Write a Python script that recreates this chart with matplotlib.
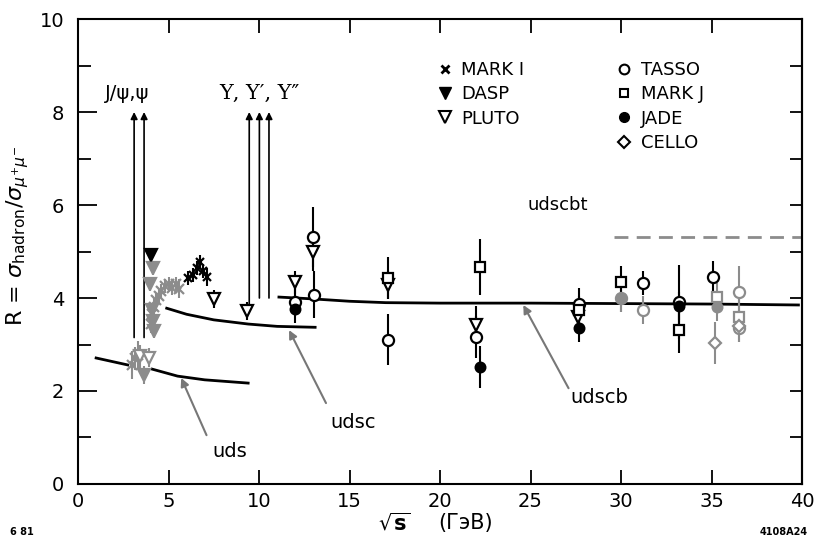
import matplotlib.pyplot as plt
from matplotlib.lines import Line2D

plt.rcParams['font.family'] = ['DejaVu Sans']
plt.rcParams['mathtext.fontset'] = 'dejavusans'

GREY = '#8c8c8c'

# quark-model expectation curves
uds_lo_x = [1.0, 2.75]
uds_lo_y = [2.71, 2.56]
uds_hi_x = [4.1, 5.5, 7.0, 9.4]
uds_hi_y = [2.47, 2.32, 2.24, 2.17]
udsc_x = [4.9, 6.0, 7.5, 9.4, 11.0, 13.1]
udsc_y = [3.78, 3.65, 3.53, 3.44, 3.39, 3.37]
udscb_x = [11.1, 13.0, 15.0, 17.0, 20.0, 25.0, 30.0, 35.0, 39.8]
udscb_y = [4.02, 3.98, 3.93, 3.90, 3.89, 3.89, 3.88, 3.87, 3.85]
udscbt_x = [29.6, 40.0]
udscbt_y = [5.31, 5.31]

# resonances
psi_x = [3.1, 3.65]
psi_bottom = [3.15, 3.15]
ups_x = [9.46, 10.02, 10.55]
ups_bottom = [3.8, 4.0, 4.0]

# MARK I
mark1_lo_x = [3.0, 3.15, 3.3, 4.05, 4.1, 4.2, 4.3, 4.45, 4.6, 4.8, 5.0, 5.2, 5.4, 5.6]
mark1_lo_y = [2.55, 2.7, 2.78, 3.45, 3.65, 3.8, 3.95, 4.05, 4.15, 4.25, 4.3, 4.22, 4.3, 4.2]
mark1_lo_e = [0.3, 0.25, 0.3, 0.2, 0.2, 0.2, 0.15, 0.15, 0.15, 0.15, 0.15, 0.15, 0.15, 0.2]
mark1_hi_x = [6.1, 6.35, 6.6, 6.75, 6.9, 7.1]
mark1_hi_y = [4.43, 4.5, 4.65, 4.78, 4.58, 4.45]
mark1_hi_e = [0.15, 0.15, 0.15, 0.15, 0.15, 0.2]

# DASP
dasp_b_x = [4.03]
dasp_b_y = [4.92]
dasp_b_e = [0.12]
dasp_g_x = [4.15, 4.0, 4.08, 4.15, 4.22, 3.65]
dasp_g_y = [4.65, 4.3, 3.75, 3.5, 3.3, 2.34]
dasp_g_e = [0.15, 0.15, 0.15, 0.15, 0.15, 0.2]

# PLUTO
pluto_b_x = [7.5, 9.35, 12.0, 13.0, 17.1, 22.0, 27.6]
pluto_b_y = [3.98, 3.72, 4.34, 4.99, 4.28, 3.42, 3.6]
pluto_b_e = [0.2, 0.2, 0.25, 0.4, 0.3, 0.4, 0.3]
pluto_g_x = [3.45, 3.9]
pluto_g_y = [2.75, 2.72]
pluto_g_e = [0.25, 0.2]

# TASSO
tasso_b_x = [12.0, 13.0, 13.05, 17.1, 22.0, 27.7, 31.2, 33.2, 35.1]
tasso_b_y = [3.92, 5.31, 4.07, 3.1, 3.17, 3.87, 4.32, 3.91, 4.45]
tasso_b_e = [0.3, 0.65, 0.5, 0.55, 0.45, 0.35, 0.25, 0.8, 0.35]
tasso_g_x = [30.0, 31.2, 36.5, 36.5]
tasso_g_y = [4.0, 3.75, 4.13, 3.35]
tasso_g_e = [0.3, 0.3, 0.55, 0.3]

# MARK J
markj_b_x = [17.1, 22.2, 27.7, 30.0, 33.2]
markj_b_y = [4.43, 4.67, 3.74, 4.34, 3.31]
markj_b_e = [0.45, 0.6, 0.3, 0.35, 0.5]
markj_g_x = [35.3, 36.5]
markj_g_y = [4.02, 3.6]
markj_g_e = [0.3, 0.4]

# JADE
jade_b_x = [12.0, 22.2, 27.7, 33.2]
jade_b_y = [3.77, 2.52, 3.36, 3.83]
jade_b_e = [0.3, 0.45, 0.3, 0.3]
jade_g_x = [30.0, 35.3]
jade_g_y = [4.0, 3.8]
jade_g_e = [0.3, 0.3]

# CELLO
cello_x = [35.2, 36.5]
cello_y = [3.03, 3.4]
cello_e = [0.45, 0.35]


def points(ax, x, y, err, marker, color, filled, ms):
    ax.errorbar(x, y, yerr=err, fmt=marker, color=color, ecolor=color,
                mfc=color if filled else 'white', mec=color, ms=ms, mew=1.6,
                elinewidth=1.5, capsize=0, zorder=4)


def main():
    fig = plt.figure(figsize=(8.16, 5.48), dpi=100)
    ax = fig.add_axes([0.0956, 0.1168, 0.8873, 0.8485])
    ax.set_xlim(0, 40)
    ax.set_ylim(0, 10)

    for s in ax.spines.values():
        s.set_linewidth(1.5)

    ax.set_xticks(range(0, 41, 5))
    ax.set_yticks([0, 2, 4, 6, 8, 10])
    ax.set_yticks([1, 3, 5, 7, 9], minor=True)
    ax.tick_params(axis='x', direction='in', length=10, width=1.3, top=True,
                   labelsize=14, pad=6)
    ax.tick_params(axis='y', which='major', direction='in', length=14,
                   width=1.3, labelsize=14, pad=10)
    ax.tick_params(axis='y', which='minor', direction='in', length=9, width=1.3)
    right = ax.secondary_yaxis('right')
    right.set_yticks(range(1, 10))
    right.tick_params(direction='in', length=9, width=1.3, labelright=False)
    right.spines['right'].set_linewidth(1.5)

    # expectation curves
    for cx, cy in [(uds_lo_x, uds_lo_y), (uds_hi_x, uds_hi_y),
                   (udsc_x, udsc_y), (udscb_x, udscb_y)]:
        ax.plot(cx, cy, color='black', lw=2.0, zorder=2)
    ax.plot(udscbt_x, udscbt_y, color=GREY, lw=2.0, dashes=(5, 3), zorder=2)

    # resonance arrows
    for rx, rb in zip(psi_x + ups_x, psi_bottom + ups_bottom):
        ax.annotate('', xy=(rx, 8.0), xytext=(rx, rb),
                    arrowprops=dict(arrowstyle='-|>', color='black', lw=1.2,
                                    mutation_scale=10, shrinkA=0, shrinkB=0))
    ax.text(2.7, 8.2, 'J/ψ,ψ', fontsize=14, ha='center', va='bottom')
    ax.text(10.0, 8.2, 'Υ, Υ′, Υ″', family='DejaVu Serif', fontsize=15,
            ha='center', va='bottom')

    # data
    points(ax, mark1_lo_x, mark1_lo_y, mark1_lo_e, 'x', GREY, True, 7)
    points(ax, mark1_hi_x, mark1_hi_y, mark1_hi_e, 'x', 'black', True, 6)
    points(ax, dasp_g_x, dasp_g_y, dasp_g_e, 'v', GREY, True, 8)
    points(ax, dasp_b_x, dasp_b_y, dasp_b_e, 'v', 'black', True, 8)
    points(ax, pluto_g_x, pluto_g_y, pluto_g_e, 'v', GREY, False, 8)
    points(ax, pluto_b_x, pluto_b_y, pluto_b_e, 'v', 'black', False, 8)
    points(ax, tasso_g_x, tasso_g_y, tasso_g_e, 'o', GREY, False, 8)
    points(ax, markj_g_x, markj_g_y, markj_g_e, 's', GREY, False, 7)
    points(ax, jade_g_x, jade_g_y, jade_g_e, 'o', GREY, True, 7)
    points(ax, cello_x, cello_y, cello_e, 'D', GREY, False, 6)
    points(ax, tasso_b_x, tasso_b_y, tasso_b_e, 'o', 'black', False, 8)
    points(ax, markj_b_x, markj_b_y, markj_b_e, 's', 'black', False, 7)
    points(ax, jade_b_x, jade_b_y, jade_b_e, 'o', 'black', True, 7)

    # curve labels
    arrow = dict(arrowstyle='-|>', color='#777777', lw=1.5, mutation_scale=12,
                 shrinkA=0, shrinkB=0)
    ax.annotate('', xy=(5.7, 2.28), xytext=(7.1, 1.05), arrowprops=arrow)
    ax.text(8.4, 0.69, 'uds', fontsize=14, ha='center', va='center')
    ax.annotate('', xy=(11.66, 3.31), xytext=(13.7, 1.74), arrowprops=arrow)
    ax.text(15.2, 1.33, 'udsc', fontsize=14, ha='center', va='center')
    ax.annotate('', xy=(24.6, 3.85), xytext=(27.1, 2.06), arrowprops=arrow)
    ax.text(28.8, 1.85, 'udscb', fontsize=14, ha='center', va='center')
    ax.text(26.5, 6.0, 'udscbt', fontsize=13, ha='center', va='center')

    # legend
    blank = Line2D([], [], linestyle='none')
    handles = [
        Line2D([], [], ls='none', marker='x', color='black', ms=6, mew=2),
        Line2D([], [], ls='none', marker='v', color='black', ms=8),
        Line2D([], [], ls='none', marker='v', mfc='white', mec='black', ms=8, mew=1.5),
        blank,
        Line2D([], [], ls='none', marker='o', mfc='white', mec='black', ms=7, mew=1.5),
        Line2D([], [], ls='none', marker='s', mfc='white', mec='black', ms=6, mew=1.5),
        Line2D([], [], ls='none', marker='o', color='black', ms=7),
        Line2D([], [], ls='none', marker='D', mfc='white', mec='black', ms=6, mew=1.5),
    ]
    labels = ['MARK I', 'DASP', 'PLUTO', '', 'TASSO', 'MARK J', 'JADE', 'CELLO']
    ax.legend(handles, labels, ncol=2, loc='upper left',
              bbox_to_anchor=(0.494, 0.91), frameon=False, fontsize=13,
              handlelength=1.0, handletextpad=0.4, columnspacing=5.05,
              labelspacing=0.35, borderpad=0, borderaxespad=0)

    fig.text(0.022, 0.57, r'R = $\sigma_{\rm hadron}/\sigma_{\mu^{+}\mu^{-}}$',
             rotation=90, fontsize=16, ha='center', va='center')
    fig.text(0.484, 0.045, r'$\sqrt{\mathbf{s}}$', fontsize=15,
             ha='center', va='center')
    fig.text(0.57, 0.045, '(ГэВ)', fontsize=15, ha='center', va='center')
    fig.text(0.012, 0.03, '6 81', fontsize=7, fontweight='bold',
             ha='left', va='center')
    fig.text(0.99, 0.03, '4108A24', fontsize=7, fontweight='bold',
             ha='right', va='center')

    fig.savefig('out.png', dpi=100)


if __name__ == "__main__":
    main()
